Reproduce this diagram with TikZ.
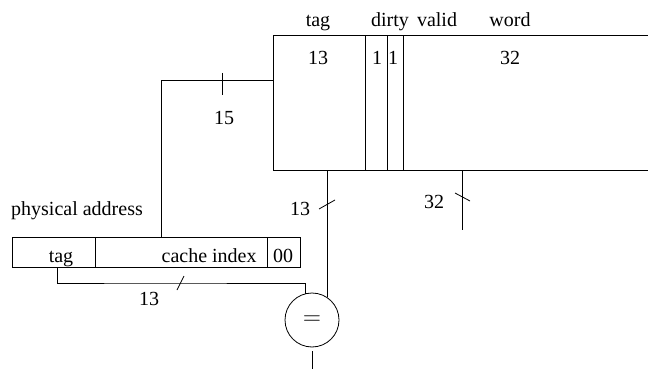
\documentclass[tikz,border=0pt]{standalone}
\usepackage{fontspec}
\setmainfont{Liberation Serif}
\usepackage{tikz}

\tikzset{
    field/.style={draw, rectangle, inner sep=0pt, anchor=north west},
    txt/.style={inner sep=0pt, anchor=base},
}

\begin{document}
\begin{tikzpicture}[x=0.5pt, y=-0.5pt]
    \useasboundingbox (0,0) rectangle (648,369);

    % Campos de la cache
    \node[field, minimum width=46pt, minimum height=67.5pt] (ctag) at (273,35) {};
    \node[field, minimum width=11pt, minimum height=67.5pt] (cdirty) at (365,35) {};
    \node[field, minimum width=8pt, minimum height=67.5pt] (cvalid) at (387,35) {};
    \node[field, draw=none, minimum width=122.5pt, minimum height=67.5pt] (cword) at (403,35) {};
    \draw (cword.north west) -- (cword.north east);
    \draw (cword.south west) -- (cword.south east);

    % Cabeceras y anchos
    \node[txt] (htag) at (318,27) {tag};
    \node[txt] (hdirty) at (390,27) {dirty};
    \node[txt] (hvalid) at (437,27) {valid};
    \node[txt] (hword) at (510,27) {word};
    \node[txt] (wtag) at (318,65) {13};
    \node[txt] (wdirty) at (377,65) {1};
    \node[txt] (wvalid) at (393,65) {1};
    \node[txt] (wword) at (510,65) {32};

    % Direccion fisica
    \node[txt] (lphys) at (77,215) {physical address};
    \node[field, minimum width=41.5pt, minimum height=15pt] (atag) at (12,237) {};
    \node[field, minimum width=86pt, minimum height=15pt] (aindex) at (95,237) {};
    \node[field, minimum width=16.5pt, minimum height=15pt] (aoff) at (267,237) {};
    \node[txt] (ltag) at (61,262) {tag};
    \node[txt, anchor=base east] (lindex) at (257,262) {cache index};
    \node[txt] (loff) at (283,262) {00};

    % Comparador
    \node[draw, circle, minimum size=27pt, inner sep=0pt] (cmp) at (312,320) {\large$=$};
    \coordinate (tagbus) at (150,283);
    \coordinate (wordout) at (462,230);
    \coordinate (cmpout) at (312,369);

    % Conexiones
    \draw ([xshift=-10pt]aindex.north) |- ([yshift=11.25pt]ctag.west);
    \draw (cmp.56) -- (cmp.56 |- ctag.south);
    \draw (wordout |- cword.south) -- (wordout);
    \draw ([xshift=1.75pt]atag.south) |- (tagbus) -| (cmp.105);
    \draw ([yshift=-2pt]cmp.south) -- (cmpout);

    % Marcas de ancho de bus
    \draw (222,73) -- (222,95);
    \node[txt] (w15) at (224,125) {15};
    \draw (319,209) -- (335,200);
    \node[txt] (w13a) at (300,215) {13};
    \draw (455,193) -- (470,201);
    \node[txt] (w32) at (434,208) {32};
    \draw (177,290) -- (184,276);
    \node[txt] (w13b) at (149,305) {13};
\end{tikzpicture}
\end{document}
